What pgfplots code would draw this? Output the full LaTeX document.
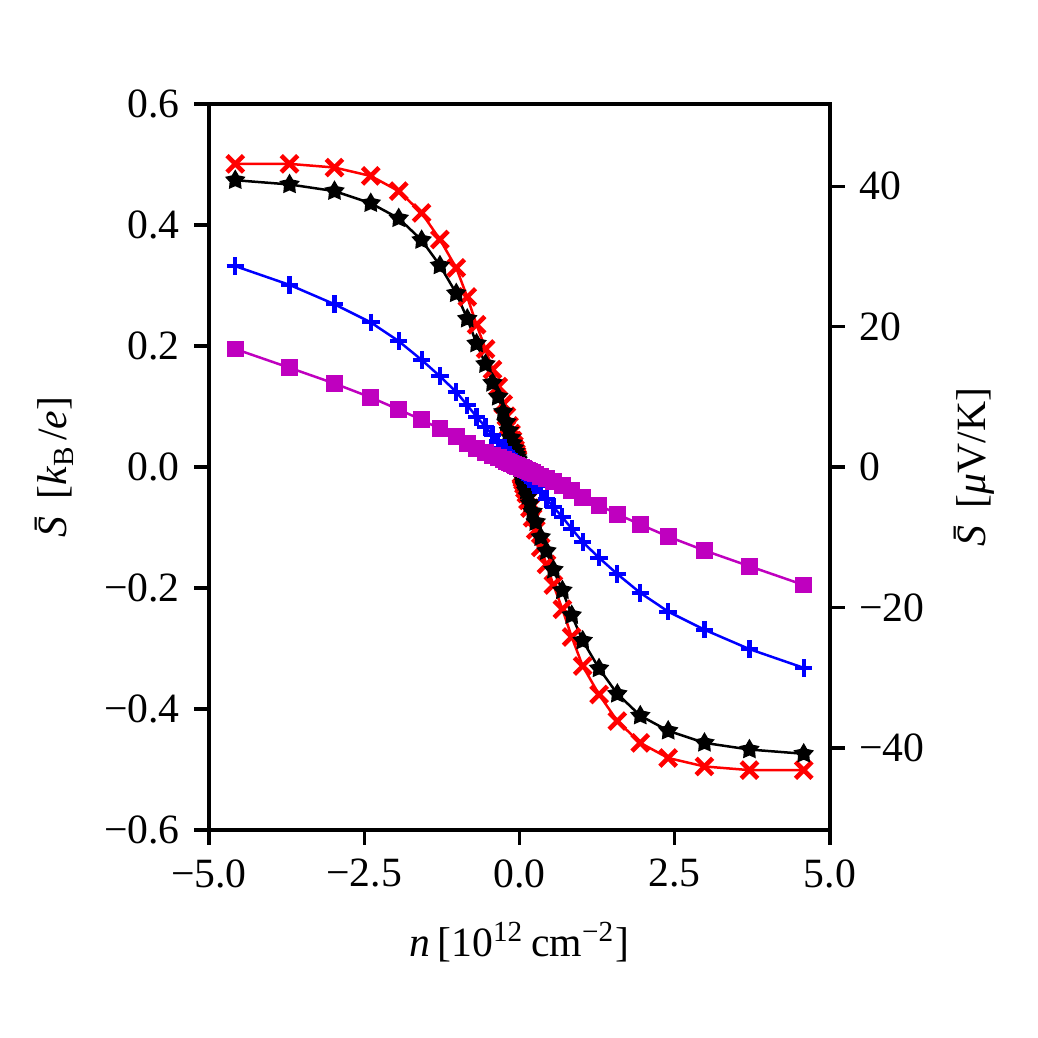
\documentclass[border=0pt]{standalone}
\usepackage{fontspec}
\setmainfont{Liberation Serif}
\usepackage{pgfplots}
\pgfplotsset{compat=1.18}
\usepackage{pgfplotstable}
\usetikzlibrary{plotmarks}
\definecolor{mplm}{rgb}{0.75,0,0.75}
\pgfdeclareplotmark{fstar}{%
  \pgfpathmoveto{\pgfqpointpolar{90}{\pgfplotmarksize}}%
  \pgfpathlineto{\pgfqpointpolar{126}{0.55\pgfplotmarksize}}%
  \pgfpathlineto{\pgfqpointpolar{162}{\pgfplotmarksize}}%
  \pgfpathlineto{\pgfqpointpolar{198}{0.55\pgfplotmarksize}}%
  \pgfpathlineto{\pgfqpointpolar{234}{\pgfplotmarksize}}%
  \pgfpathlineto{\pgfqpointpolar{270}{0.55\pgfplotmarksize}}%
  \pgfpathlineto{\pgfqpointpolar{306}{\pgfplotmarksize}}%
  \pgfpathlineto{\pgfqpointpolar{342}{0.55\pgfplotmarksize}}%
  \pgfpathlineto{\pgfqpointpolar{18}{\pgfplotmarksize}}%
  \pgfpathlineto{\pgfqpointpolar{54}{0.55\pgfplotmarksize}}%
  \pgfpathclose
  \pgfusepathqfillstroke}
\pgfplotstableread{
n r k b m
-4.577 0.501 0.474 0.332 0.195
-3.703 0.501 0.467 0.301 0.164
-2.979 0.495 0.456 0.269 0.138
-2.395 0.481 0.436 0.239 0.115
-1.945 0.456 0.411 0.208 0.095
-1.576 0.420 0.375 0.177 0.078
-1.281 0.376 0.333 0.150 0.063
-1.018 0.329 0.287 0.124 0.050
-0.841 0.281 0.245 0.102 0.039
-0.691 0.235 0.204 0.083 0.031
-0.547 0.195 0.170 0.066 0.0245
-0.434 0.161 0.139 0.053 0.0194
-0.342 0.133 0.116 0.042 0.0153
-0.262 0.104 0.091 0.031 0.0117
-0.211 0.084 0.074 0.025 0.0094
-0.170 0.068 0.060 0.020 0.0076
-0.137 0.055 0.048 0.016 0.0061
-0.111 0.044 0.039 0.013 0.0050
-0.089 0.036 0.031 0.011 0.0040
-0.072 0.029 0.025 0.0086 0.0032
-0.058 0.023 0.020 0.0070 0.0026
-0.047 0.019 0.016 0.0056 0.0021
-0.038 0.015 0.013 0.0046 0.0017
-0.031 0.012 0.011 0.0037 0.0014
0.031 -0.012 -0.011 -0.0037 -0.0014
0.038 -0.015 -0.013 -0.0046 -0.0017
0.047 -0.019 -0.016 -0.0056 -0.0021
0.058 -0.023 -0.020 -0.0070 -0.0026
0.072 -0.029 -0.025 -0.0086 -0.0032
0.089 -0.036 -0.031 -0.011 -0.0040
0.111 -0.044 -0.039 -0.013 -0.0050
0.137 -0.055 -0.048 -0.016 -0.0061
0.170 -0.068 -0.060 -0.020 -0.0076
0.211 -0.084 -0.074 -0.025 -0.0094
0.262 -0.104 -0.091 -0.031 -0.0117
0.342 -0.133 -0.116 -0.042 -0.0153
0.434 -0.161 -0.139 -0.053 -0.0194
0.547 -0.195 -0.170 -0.066 -0.0245
0.691 -0.235 -0.204 -0.083 -0.031
0.841 -0.281 -0.245 -0.102 -0.039
1.018 -0.329 -0.287 -0.124 -0.050
1.281 -0.376 -0.333 -0.150 -0.063
1.576 -0.420 -0.375 -0.177 -0.078
1.945 -0.456 -0.411 -0.208 -0.095
2.395 -0.481 -0.436 -0.239 -0.115
2.979 -0.495 -0.456 -0.269 -0.138
3.703 -0.501 -0.467 -0.301 -0.164
4.577 -0.501 -0.474 -0.332 -0.195
}\datatable
\pgfplotsset{
  common/.style={
    scale only axis, width=149.04pt, height=174.24pt,
    xmin=-5, xmax=5,
    tick align=outside,
    major tick length=3.5pt,
    every tick/.style={black, line width=0.8pt},
    axis line style={-, line width=0.8pt},
  }
}
\begin{document}
\begin{tikzpicture}
\begin{axis}[common,
  ymin=-0.6, ymax=0.6,
  xtick={-5,-2.5,0,2.5,5}, xticklabels={−5.0,−2.5,0.0,2.5,5.0},
  ytick={-0.6,-0.4,-0.2,0,0.2,0.4,0.6},
  yticklabels={−0.6,−0.4,−0.2,0.0,0.2,0.4,0.6},
  xtick pos=bottom, ytick pos=left,
]
\addplot[red, line width=0.6pt, mark=x, mark size=2.8pt, mark options={line width=1.1pt}] table[x=n,y=r]{\datatable};
\addplot[black, line width=0.6pt, mark=fstar, mark size=2.0pt, mark options={line width=0.6pt, fill=black}] table[x=n,y=k]{\datatable};
\addplot[blue, line width=0.6pt, mark=+, mark size=2.1pt, mark options={line width=1pt}] table[x=n,y=b]{\datatable};
\addplot[mplm, line width=0.6pt, mark=square*, mark size=1.9pt, mark options={line width=0pt, draw=mplm, fill=mplm}] table[x=n,y=m]{\datatable};
\coordinate (bl) at (rel axis cs:0,0);
\coordinate (tr) at (rel axis cs:1,1);
\coordinate (lm) at (rel axis cs:0,0.5);
\coordinate (rm) at (rel axis cs:1,0.5);
\coordinate (bm) at (rel axis cs:0.5,0);
\end{axis}
\begin{axis}[common,
  ymin=-51.70, ymax=51.70,
  hide x axis, axis y line*=right,
  ytick={-40,-20,0,20,40}, yticklabels={−40,−20,0,20,40},
]
\addplot[draw=none] coordinates {(0,0)};
\end{axis}
\node[rotate=90] at ([xshift=-37.2pt]lm) {\textit{\={S}}\,[\textit{k}\textsubscript{B}\kern1pt/\textit{e}]};
\node[rotate=90] at ([xshift=34.6pt]rm) {\textit{\={S}}\,[\textit{μ}V/K]};
\node at ([yshift=-26.9pt]bm) {\textit{n}\,[10\textsuperscript{12}\,cm\textsuperscript{−2}]};
\pgfresetboundingbox
\path ([shift={(-50.16pt,-49.92pt)}]bl) rectangle ([shift={(49.92pt,24.96pt)}]tr);
\end{tikzpicture}
\end{document}
